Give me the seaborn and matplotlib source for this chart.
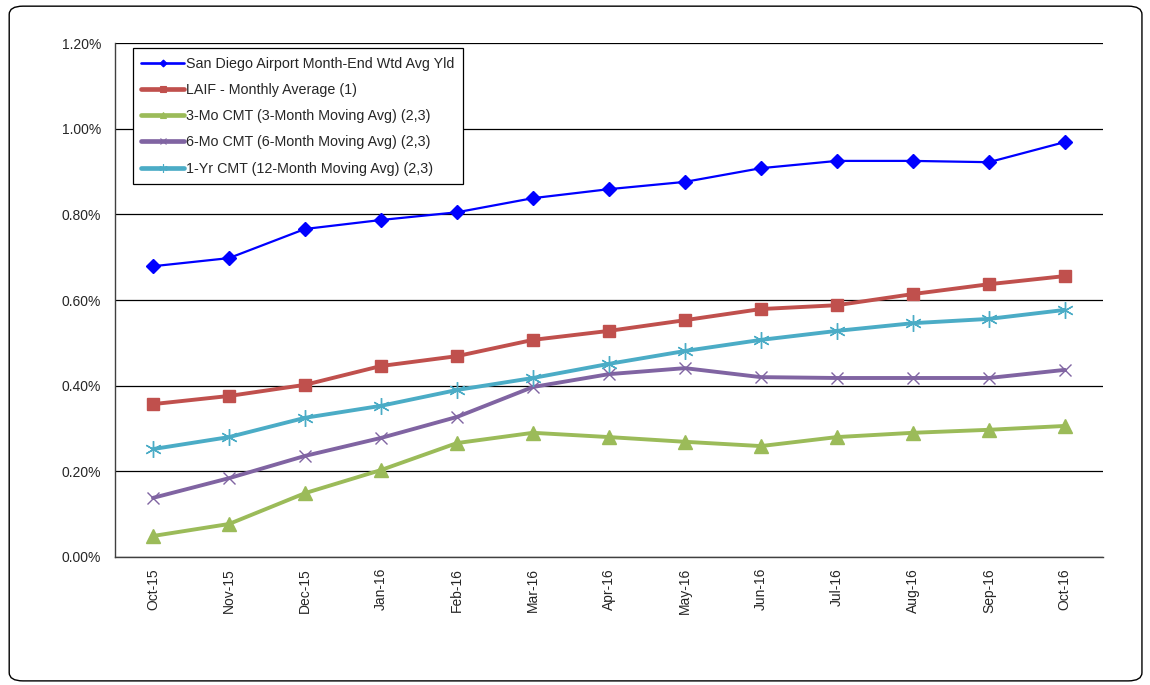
import matplotlib
matplotlib.use("Agg")
import matplotlib.pyplot as plt
import seaborn as sns
import numpy as np
from matplotlib.patches import FancyBboxPatch
from matplotlib.lines import Line2D
from matplotlib.ticker import FuncFormatter, MultipleLocator

months = ["Oct-15", "Nov-15", "Dec-15", "Jan-16", "Feb-16", "Mar-16", "Apr-16",
          "May-16", "Jun-16", "Jul-16", "Aug-16", "Sep-16", "Oct-16"]
san_diego = [0.679, 0.698, 0.766, 0.787, 0.805, 0.838, 0.859, 0.876, 0.908, 0.925, 0.925, 0.922, 0.969]
laif = [0.357, 0.376, 0.402, 0.446, 0.469, 0.507, 0.528, 0.553, 0.579, 0.588, 0.614, 0.637, 0.656]
cmt_3mo = [0.049, 0.077, 0.149, 0.203, 0.266, 0.290, 0.280, 0.269, 0.259, 0.280, 0.290, 0.297, 0.306]
cmt_6mo = [0.138, 0.184, 0.236, 0.278, 0.327, 0.397, 0.427, 0.441, 0.420, 0.418, 0.418, 0.418, 0.437]
cmt_1yr = [0.252, 0.280, 0.325, 0.353, 0.390, 0.418, 0.451, 0.481, 0.507, 0.528, 0.546, 0.556, 0.577]

labels = ["San Diego Airport Month-End Wtd Avg Yld",
          "LAIF - Monthly Average (1)",
          "3-Mo CMT (3-Month Moving Avg) (2,3)",
          "6-Mo CMT (6-Month Moving Avg) (2,3)",
          "1-Yr CMT (12-Month Moving Avg) (2,3)"]

sns.set_theme(style="white")
plt.rcParams['font.family'] = ['Liberation Sans', 'DejaVu Sans']

fig = plt.figure(figsize=(11.5, 6.85), dpi=100)
border = FancyBboxPatch((0.008, 0.006), 0.985, 0.985, boxstyle="round,pad=0,rounding_size=0.012",
                        transform=fig.transFigure, fill=False, edgecolor="black", linewidth=1.0)
fig.patches.append(border)

ax = fig.add_axes([0.1, 0.1869, 0.859, 0.7501])

x = np.arange(len(months))
series = [
    (san_diego, "#0000FF", "D", 7, 1.6),
    (laif, "#C0504D", "s", 9, 2.8),
    (cmt_3mo, "#9BBB59", "^", 10, 2.8),
    (cmt_6mo, "#8064A2", "x", 9, 2.8),
    (cmt_1yr, "#4BACC6", (6, 2, 0), 12, 2.8),
]
handles = []
for (vals, col, mk, ms, lw), lab in zip(series, labels):
    sns.lineplot(x=x, y=vals, ax=ax, color=col, marker=mk, markersize=ms, linewidth=lw,
                 markeredgecolor=col, markeredgewidth=1.0, legend=False)
    handles.append(Line2D([], [], color=col, marker=mk, markersize=ms * 0.5, linewidth=lw * 1.2,
                          markeredgecolor=col, markeredgewidth=0.8))

ax.set_xlim(-0.5, 12.5)
ax.set_ylim(0, 1.2)
ax.yaxis.set_major_locator(MultipleLocator(0.2))
ax.yaxis.set_major_formatter(FuncFormatter(lambda v, p: f"{v:.2f}%"))
ax.set_xticks(x)
ax.set_xticklabels(months, rotation=90, fontsize=10)
ax.set_xticks(np.arange(-0.5, 13, 1), minor=True)
ax.tick_params(axis='x', which='major', length=0, pad=8)
ax.tick_params(axis='x', which='minor', length=5, width=1, color='#404040', direction='out')
ax.tick_params(axis='y', length=5, width=1, color='#404040', direction='out', labelsize=10, pad=5)
ax.grid(axis='y', color='black', linewidth=0.9)
ax.set_axisbelow(True)
for s in ['top', 'right']:
    ax.spines[s].set_visible(False)
for s in ['left', 'bottom']:
    ax.spines[s].set_color('#404040')
    ax.spines[s].set_linewidth(1.0)
ax.set_xlabel("")
ax.set_ylabel("")

leg = ax.legend(handles, labels, loc='upper left', bbox_to_anchor=(0.018, 0.99), fontsize=10.3,
                frameon=True, fancybox=False, edgecolor='black', framealpha=1,
                handlelength=3.0, handletextpad=0.15, labelspacing=0.85, borderpad=0.6,
                borderaxespad=0)
leg.get_frame().set_linewidth(0.9)

fig.savefig("out.png", dpi=100)
